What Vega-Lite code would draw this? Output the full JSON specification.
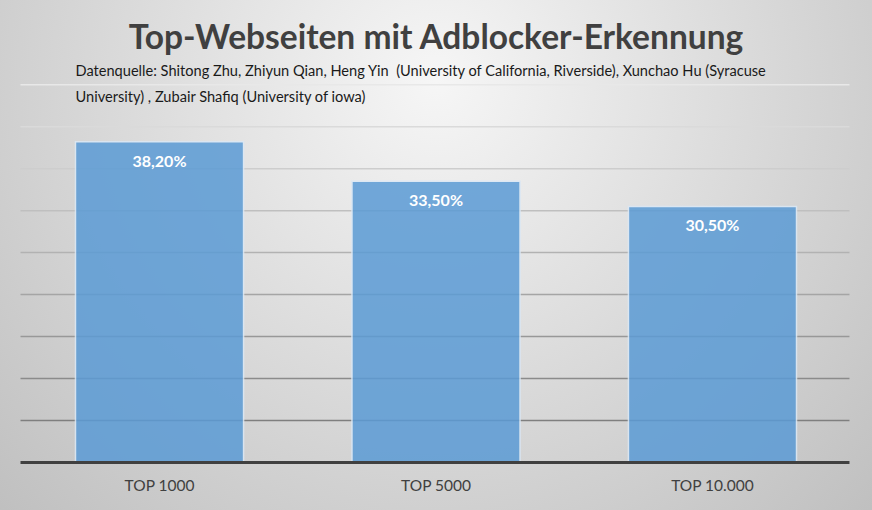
{
  "$schema": "https://vega.github.io/schema/vega-lite/v6.json",
  "width": 872,
  "height": 510,
  "padding": 0,
  "autosize": {"type": "none"},
  "background": "#d4d4d4",
  "title": {
    "text": "Top-Webseiten mit Adblocker-Erkennung",
    "anchor": "middle",
    "frame": "group",
    "offset": -72,
    "baseline": "middle",
    "font": "Lato",
    "fontSize": 33.5,
    "fontWeight": "bold",
    "color": "#404040"
  },
  "config": {
    "view": {"stroke": null},
    "locale": {
      "number": {"decimal": ",", "thousands": ".", "grouping": [3], "currency": ["", " €"]}
    }
  },
  "data": {
    "values": [
      {"cat": "TOP 1000", "v": 0.382},
      {"cat": "TOP 5000", "v": 0.335},
      {"cat": "TOP 10.000", "v": 0.305}
    ]
  },
  "layer": [
    {
      "data": {"values": [{}]},
      "mark": {
        "type": "rect",
        "fill": {
          "gradient": "radial",
          "x1": 0.5, "y1": 0.3, "r1": 0,
          "x2": 0.5, "y2": 0.3, "r2": 0.75,
          "stops": [
            {"offset": 0, "color": "#f6f6f6"},
            {"offset": 1, "color": "#bcbcbc"}
          ]
        }
      },
      "encoding": {}
    },
    {
      "data": {
        "values": [
          {"g": 0.05}, {"g": 0.1}, {"g": 0.15}, {"g": 0.2},
          {"g": 0.25}, {"g": 0.3}, {"g": 0.35}, {"g": 0.4}, {"g": 0.45}
        ]
      },
      "mark": {"type": "rule", "strokeWidth": 1.5},
      "encoding": {
        "y": {"field": "g", "type": "quantitative"},
        "x": {"datum": "TOP 1000", "bandPosition": -0.327},
        "x2": {"datum": "TOP 10.000", "bandPosition": 1.315},
        "color": {
          "field": "g",
          "type": "quantitative",
          "scale": {"domain": [0.05, 0.45], "range": ["#7f7f7f", "#e8e8e8"]},
          "legend": null
        }
      }
    },
    {
      "mark": {
        "type": "bar",
        "color": "#5b9bd5",
        "opacity": 0.85,
        "stroke": "#dbe8f5",
        "strokeWidth": 1.5
      },
      "encoding": {
        "x": {
          "field": "cat",
          "type": "nominal",
          "sort": null,
          "scale": {
            "domain": ["TOP 1000", "TOP 5000", "TOP 10.000"],
            "paddingInner": 0.392,
            "paddingOuter": 0.273
          },
          "axis": {
            "orient": "bottom",
            "offset": -25,
            "zindex": 2,
            "domain": false,
            "ticks": false,
            "tickSize": 0,
            "labelPadding": 0,
            "labelAlign": "center",
            "labelBaseline": "middle",
            "labelFont": "Lato",
            "labelFontSize": 15.5,
            "labelColor": "#404040",
            "labelAngle": 0,
            "grid": false,
            "title": null
          }
        },
        "y": {
          "field": "v",
          "type": "quantitative",
          "scale": {"domain": [-0.0566, 0.5509], "nice": false, "zero": false},
          "axis": {
            "orient": "left",
            "zindex": 2,
            "domain": false,
            "ticks": false,
            "labels": false,
            "grid": false,
            "title": [
              "Datenquelle: Shitong Zhu, Zhiyun Qian, Heng Yin\u00a0 (University of California, Riverside), Xunchao Hu (Syracuse",
              "University) , Zubair Shafiq (University of iowa)"
            ],
            "titleAngle": 0,
            "titleX": 75,
            "titleY": 63,
            "titleAlign": "left",
            "titleBaseline": "top",
            "titleFont": "Lato",
            "titleFontSize": 14.6,
            "titleFontWeight": "normal",
            "titleColor": "#1a1a1a",
            "titleLineHeight": 26
          }
        },
        "y2": {"datum": 0}
      }
    },
    {
      "mark": {
        "type": "text",
        "dy": 20,
        "baseline": "middle",
        "font": "Lato",
        "fontSize": 16,
        "fontWeight": "bold",
        "color": "#ffffff"
      },
      "encoding": {
        "x": {"field": "cat", "type": "nominal", "sort": null},
        "y": {"field": "v", "type": "quantitative"},
        "text": {"field": "v", "type": "quantitative", "format": ".2%"}
      }
    },
    {
      "data": {"values": [{"b": 0}]},
      "mark": {"type": "rule", "strokeWidth": 3, "color": "#404040"},
      "encoding": {
        "y": {"field": "b", "type": "quantitative"},
        "x": {"datum": "TOP 1000", "bandPosition": -0.327},
        "x2": {"datum": "TOP 10.000", "bandPosition": 1.315}
      }
    }
  ]
}
